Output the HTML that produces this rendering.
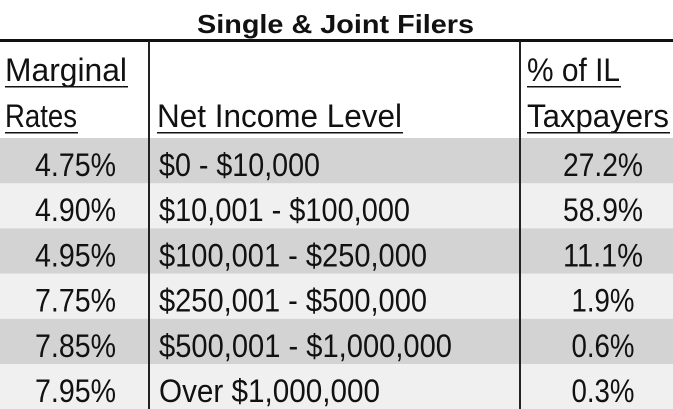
<!DOCTYPE html>
<html><head><meta charset="utf-8"><style>
html,body{margin:0;padding:0;background:#fff;}
svg{display:block;font-family:"Liberation Sans",sans-serif;}
text{fill:#111;}
</style></head><body>
<svg width="673" height="409" viewBox="0 0 673 409">
<rect x="0" y="0" width="673" height="409" fill="#fff"/>
<text x="197" y="33" font-size="26" font-weight="bold" textLength="277" lengthAdjust="spacingAndGlyphs">Single &amp; Joint Filers</text>
<rect x="0" y="39" width="673" height="3" fill="#111"/>
<g font-size="32">
<text x="5" y="81" textLength="122" lengthAdjust="spacingAndGlyphs">Marginal</text>
<rect x="5" y="86" width="123" height="1.5" fill="#111"/>
<text x="5" y="127" textLength="72" lengthAdjust="spacingAndGlyphs">Rates</text>
<rect x="5" y="132" width="73" height="1.5" fill="#111"/>
<text x="157" y="127" textLength="245" lengthAdjust="spacingAndGlyphs">Net Income Level</text>
<rect x="157" y="132" width="246" height="1.5" fill="#111"/>
<text x="527" y="81" textLength="93" lengthAdjust="spacingAndGlyphs">% of IL</text>
<rect x="527" y="86" width="94" height="1.5" fill="#111"/>
<text x="527" y="127" textLength="142" lengthAdjust="spacingAndGlyphs">Taxpayers</text>
<rect x="527" y="132" width="143" height="1.5" fill="#111"/>
</g>
<g id="rows"></g>
<rect x="148" y="41" width="2" height="368" fill="#222"/>
<rect x="519" y="41" width="2" height="368" fill="#222"/>
</svg>
<script>
const rates=["4.75%","4.90%","4.95%","7.75%","7.85%","7.95%"];
const incomes=["$0 - $10,000","$10,001 - $100,000","$100,001 - $250,000","$250,001 - $500,000","$500,001 - $1,000,000","Over $1,000,000"];
const shares=["27.2%","58.9%","11.1%","1.9%","0.6%","0.3%"];
const incomeW=[161,251,268,268,293,221];
const NS="http://www.w3.org/2000/svg";
const g=document.getElementById('rows');
const top0=138,rh=45.2;
function t(x,y,s,anchor,len){const e=document.createElementNS(NS,'text');e.setAttribute('x',x);e.setAttribute('y',y);e.setAttribute('font-size','32');e.setAttribute('text-anchor',anchor);if(len){e.setAttribute('textLength',len);e.setAttribute('lengthAdjust','spacingAndGlyphs');}e.textContent=s;return e;}
rates.forEach((r,i)=>{
  const y=top0+i*rh;
  const row=document.createElementNS(NS,'g');
  
  
  const bg=document.createElementNS(NS,'rect');
  bg.setAttribute('x',0);bg.setAttribute('y',y);bg.setAttribute('width',673);bg.setAttribute('height',rh+0.5);
  bg.setAttribute('fill',i%2===0?'#d3d3d3':'#f0f0f0');
  row.appendChild(bg);
  const b=y+38;
  const a=t(116,b,r,'end',81);
  
  
  row.appendChild(a);
  const c=t(159,b,incomes[i],'start',incomeW[i]);
  
  
  row.appendChild(c);
  const d=t(603,b,shares[i],'middle',shares[i].length>4?80:63);
  
  
  row.appendChild(d);
  g.appendChild(row);
});
</script>
</body></html>
